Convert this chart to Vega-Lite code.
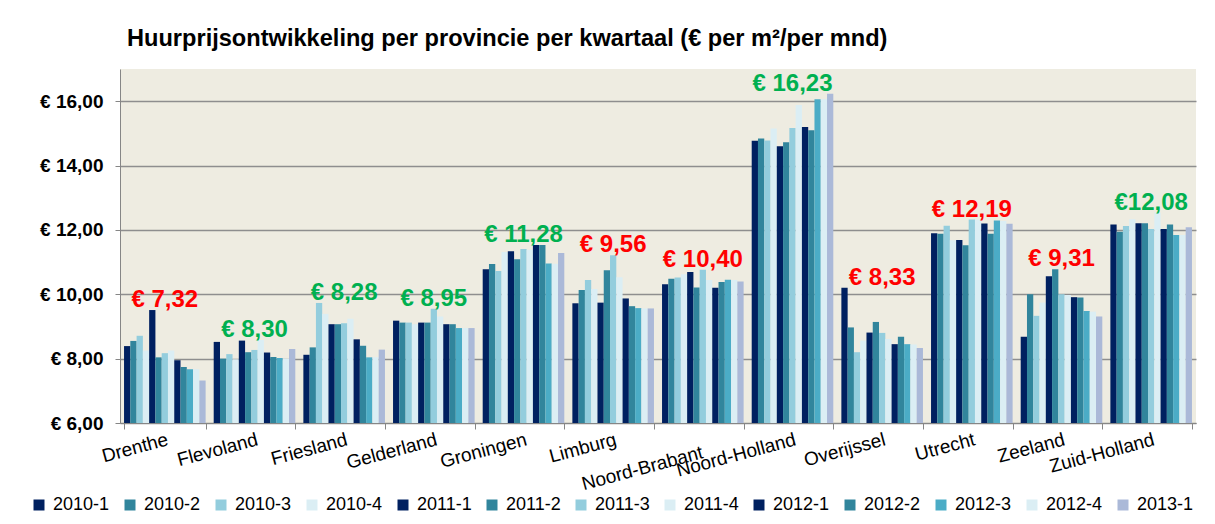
{
  "$schema": "https://vega.github.io/schema/vega-lite/v6.json",
  "autosize": {"type": "none"},
  "width": 1076,
  "height": 354,
  "padding": {"left": 120, "top": 69, "right": 19, "bottom": 101},
  "background": "#FFFFFF",
  "title": {
    "text": "Huurprijsontwikkeling per provincie per kwartaal (€ per m²/per mnd)",
    "anchor": "start",
    "frame": "group",
    "font": "Liberation Sans",
    "fontSize": 23.6,
    "fontWeight": "bold",
    "color": "#000000",
    "baseline": "bottom",
    "offset": -6,
    "dx": 7
  },
  "datasets": {
    "labels": [
      {"province": "Drenthe", "label": "€ 7,32", "trend": "daling"},
      {"province": "Flevoland", "label": "€ 8,30", "trend": "stijging"},
      {"province": "Friesland", "label": "€ 8,28", "trend": "stijging"},
      {"province": "Gelderland", "label": "€ 8,95", "trend": "stijging"},
      {"province": "Groningen", "label": "€ 11,28", "trend": "stijging"},
      {"province": "Limburg", "label": "€ 9,56", "trend": "daling"},
      {"province": "Noord-Brabant", "label": "€ 10,40", "trend": "daling"},
      {"province": "Noord-Holland", "label": "€ 16,23", "trend": "stijging"},
      {"province": "Overijssel", "label": "€ 8,33", "trend": "daling"},
      {"province": "Utrecht", "label": "€ 12,19", "trend": "daling"},
      {"province": "Zeeland", "label": "€ 9,31", "trend": "daling"},
      {"province": "Zuid-Holland", "label": "€12,08", "trend": "stijging"}
    ]
  },
  "data": {
    "values": [
      {"province": "Drenthe", "quarter": "2010-1", "value": 8.39},
      {"province": "Drenthe", "quarter": "2010-2", "value": 8.55},
      {"province": "Drenthe", "quarter": "2010-3", "value": 8.71},
      {"province": "Drenthe", "quarter": "2010-4", "value": 8.25},
      {"province": "Drenthe", "quarter": "2011-1", "value": 9.51},
      {"province": "Drenthe", "quarter": "2011-2", "value": 8.04},
      {"province": "Drenthe", "quarter": "2011-3", "value": 8.17},
      {"province": "Drenthe", "quarter": "2011-4", "value": 8.25},
      {"province": "Drenthe", "quarter": "2012-1", "value": 7.95},
      {"province": "Drenthe", "quarter": "2012-2", "value": 7.74},
      {"province": "Drenthe", "quarter": "2012-3", "value": 7.67},
      {"province": "Drenthe", "quarter": "2012-4", "value": 7.67},
      {"province": "Drenthe", "quarter": "2013-1", "value": 7.32},
      {"province": "Flevoland", "quarter": "2010-1", "value": 8.52},
      {"province": "Flevoland", "quarter": "2010-2", "value": 8.00},
      {"province": "Flevoland", "quarter": "2010-3", "value": 8.14},
      {"province": "Flevoland", "quarter": "2010-4", "value": 7.98},
      {"province": "Flevoland", "quarter": "2011-1", "value": 8.56},
      {"province": "Flevoland", "quarter": "2011-2", "value": 8.20},
      {"province": "Flevoland", "quarter": "2011-3", "value": 8.27},
      {"province": "Flevoland", "quarter": "2011-4", "value": 8.58},
      {"province": "Flevoland", "quarter": "2012-1", "value": 8.19},
      {"province": "Flevoland", "quarter": "2012-2", "value": 8.05},
      {"province": "Flevoland", "quarter": "2012-3", "value": 8.02},
      {"province": "Flevoland", "quarter": "2012-4", "value": 8.00},
      {"province": "Flevoland", "quarter": "2013-1", "value": 8.30},
      {"province": "Friesland", "quarter": "2010-1", "value": 8.12},
      {"province": "Friesland", "quarter": "2010-2", "value": 8.35},
      {"province": "Friesland", "quarter": "2010-3", "value": 9.73},
      {"province": "Friesland", "quarter": "2010-4", "value": 9.39},
      {"province": "Friesland", "quarter": "2011-1", "value": 9.07},
      {"province": "Friesland", "quarter": "2011-2", "value": 9.07},
      {"province": "Friesland", "quarter": "2011-3", "value": 9.10},
      {"province": "Friesland", "quarter": "2011-4", "value": 9.24},
      {"province": "Friesland", "quarter": "2012-1", "value": 8.60},
      {"province": "Friesland", "quarter": "2012-2", "value": 8.40},
      {"province": "Friesland", "quarter": "2012-3", "value": 8.04},
      {"province": "Friesland", "quarter": "2012-4", "value": 8.04},
      {"province": "Friesland", "quarter": "2013-1", "value": 8.28},
      {"province": "Gelderland", "quarter": "2010-1", "value": 9.18},
      {"province": "Gelderland", "quarter": "2010-2", "value": 9.12},
      {"province": "Gelderland", "quarter": "2010-3", "value": 9.12},
      {"province": "Gelderland", "quarter": "2010-4", "value": 9.07},
      {"province": "Gelderland", "quarter": "2011-1", "value": 9.12},
      {"province": "Gelderland", "quarter": "2011-2", "value": 9.12},
      {"province": "Gelderland", "quarter": "2011-3", "value": 9.55},
      {"province": "Gelderland", "quarter": "2011-4", "value": 9.31},
      {"province": "Gelderland", "quarter": "2012-1", "value": 9.07},
      {"province": "Gelderland", "quarter": "2012-2", "value": 9.07},
      {"province": "Gelderland", "quarter": "2012-3", "value": 8.95},
      {"province": "Gelderland", "quarter": "2012-4", "value": 8.95},
      {"province": "Gelderland", "quarter": "2013-1", "value": 8.95},
      {"province": "Groningen", "quarter": "2010-1", "value": 10.78},
      {"province": "Groningen", "quarter": "2010-2", "value": 10.94},
      {"province": "Groningen", "quarter": "2010-3", "value": 10.72},
      {"province": "Groningen", "quarter": "2010-4", "value": 11.31},
      {"province": "Groningen", "quarter": "2011-1", "value": 11.34},
      {"province": "Groningen", "quarter": "2011-2", "value": 11.09},
      {"province": "Groningen", "quarter": "2011-3", "value": 11.41},
      {"province": "Groningen", "quarter": "2011-4", "value": 11.38},
      {"province": "Groningen", "quarter": "2012-1", "value": 11.53},
      {"province": "Groningen", "quarter": "2012-2", "value": 11.53},
      {"province": "Groningen", "quarter": "2012-3", "value": 10.96},
      {"province": "Groningen", "quarter": "2012-4", "value": 10.95},
      {"province": "Groningen", "quarter": "2013-1", "value": 11.28},
      {"province": "Limburg", "quarter": "2010-1", "value": 9.72},
      {"province": "Limburg", "quarter": "2010-2", "value": 10.13},
      {"province": "Limburg", "quarter": "2010-3", "value": 10.44},
      {"province": "Limburg", "quarter": "2010-4", "value": 10.16},
      {"province": "Limburg", "quarter": "2011-1", "value": 9.74},
      {"province": "Limburg", "quarter": "2011-2", "value": 10.75},
      {"province": "Limburg", "quarter": "2011-3", "value": 11.21},
      {"province": "Limburg", "quarter": "2011-4", "value": 10.53},
      {"province": "Limburg", "quarter": "2012-1", "value": 9.87},
      {"province": "Limburg", "quarter": "2012-2", "value": 9.63},
      {"province": "Limburg", "quarter": "2012-3", "value": 9.57},
      {"province": "Limburg", "quarter": "2012-4", "value": 9.56},
      {"province": "Limburg", "quarter": "2013-1", "value": 9.56},
      {"province": "Noord-Brabant", "quarter": "2010-1", "value": 10.31},
      {"province": "Noord-Brabant", "quarter": "2010-2", "value": 10.48},
      {"province": "Noord-Brabant", "quarter": "2010-3", "value": 10.52},
      {"province": "Noord-Brabant", "quarter": "2010-4", "value": 10.62},
      {"province": "Noord-Brabant", "quarter": "2011-1", "value": 10.69},
      {"province": "Noord-Brabant", "quarter": "2011-2", "value": 10.21},
      {"province": "Noord-Brabant", "quarter": "2011-3", "value": 10.76},
      {"province": "Noord-Brabant", "quarter": "2011-4", "value": 10.44},
      {"province": "Noord-Brabant", "quarter": "2012-1", "value": 10.20},
      {"province": "Noord-Brabant", "quarter": "2012-2", "value": 10.38},
      {"province": "Noord-Brabant", "quarter": "2012-3", "value": 10.45},
      {"province": "Noord-Brabant", "quarter": "2012-4", "value": 10.44},
      {"province": "Noord-Brabant", "quarter": "2013-1", "value": 10.40},
      {"province": "Noord-Holland", "quarter": "2010-1", "value": 14.77},
      {"province": "Noord-Holland", "quarter": "2010-2", "value": 14.84},
      {"province": "Noord-Holland", "quarter": "2010-3", "value": 14.78},
      {"province": "Noord-Holland", "quarter": "2010-4", "value": 15.15},
      {"province": "Noord-Holland", "quarter": "2011-1", "value": 14.60},
      {"province": "Noord-Holland", "quarter": "2011-2", "value": 14.72},
      {"province": "Noord-Holland", "quarter": "2011-3", "value": 15.17},
      {"province": "Noord-Holland", "quarter": "2011-4", "value": 15.88},
      {"province": "Noord-Holland", "quarter": "2012-1", "value": 15.20},
      {"province": "Noord-Holland", "quarter": "2012-2", "value": 15.10},
      {"province": "Noord-Holland", "quarter": "2012-3", "value": 16.06},
      {"province": "Noord-Holland", "quarter": "2012-4", "value": 16.06},
      {"province": "Noord-Holland", "quarter": "2013-1", "value": 16.23},
      {"province": "Overijssel", "quarter": "2010-1", "value": 10.20},
      {"province": "Overijssel", "quarter": "2010-2", "value": 8.97},
      {"province": "Overijssel", "quarter": "2010-3", "value": 8.20},
      {"province": "Overijssel", "quarter": "2010-4", "value": 8.56},
      {"province": "Overijssel", "quarter": "2011-1", "value": 8.81},
      {"province": "Overijssel", "quarter": "2011-2", "value": 9.14},
      {"province": "Overijssel", "quarter": "2011-3", "value": 8.80},
      {"province": "Overijssel", "quarter": "2011-4", "value": 8.61},
      {"province": "Overijssel", "quarter": "2012-1", "value": 8.45},
      {"province": "Overijssel", "quarter": "2012-2", "value": 8.68},
      {"province": "Overijssel", "quarter": "2012-3", "value": 8.45},
      {"province": "Overijssel", "quarter": "2012-4", "value": 8.44},
      {"province": "Overijssel", "quarter": "2013-1", "value": 8.33},
      {"province": "Utrecht", "quarter": "2010-1", "value": 11.90},
      {"province": "Utrecht", "quarter": "2010-2", "value": 11.88},
      {"province": "Utrecht", "quarter": "2010-3", "value": 12.13},
      {"province": "Utrecht", "quarter": "2010-4", "value": 11.68},
      {"province": "Utrecht", "quarter": "2011-1", "value": 11.69},
      {"province": "Utrecht", "quarter": "2011-2", "value": 11.52},
      {"province": "Utrecht", "quarter": "2011-3", "value": 12.32},
      {"province": "Utrecht", "quarter": "2011-4", "value": 12.32},
      {"province": "Utrecht", "quarter": "2012-1", "value": 12.20},
      {"province": "Utrecht", "quarter": "2012-2", "value": 11.88},
      {"province": "Utrecht", "quarter": "2012-3", "value": 12.29},
      {"province": "Utrecht", "quarter": "2012-4", "value": 12.28},
      {"province": "Utrecht", "quarter": "2013-1", "value": 12.19},
      {"province": "Zeeland", "quarter": "2010-1", "value": 8.68},
      {"province": "Zeeland", "quarter": "2010-2", "value": 10.00},
      {"province": "Zeeland", "quarter": "2010-3", "value": 9.33},
      {"province": "Zeeland", "quarter": "2010-4", "value": 9.74},
      {"province": "Zeeland", "quarter": "2011-1", "value": 10.56},
      {"province": "Zeeland", "quarter": "2011-2", "value": 10.78},
      {"province": "Zeeland", "quarter": "2011-3", "value": 10.00},
      {"province": "Zeeland", "quarter": "2011-4", "value": 9.98},
      {"province": "Zeeland", "quarter": "2012-1", "value": 9.91},
      {"province": "Zeeland", "quarter": "2012-2", "value": 9.90},
      {"province": "Zeeland", "quarter": "2012-3", "value": 9.48},
      {"province": "Zeeland", "quarter": "2012-4", "value": 9.46},
      {"province": "Zeeland", "quarter": "2013-1", "value": 9.31},
      {"province": "Zuid-Holland", "quarter": "2010-1", "value": 12.17},
      {"province": "Zuid-Holland", "quarter": "2010-2", "value": 11.94},
      {"province": "Zuid-Holland", "quarter": "2010-3", "value": 12.12},
      {"province": "Zuid-Holland", "quarter": "2010-4", "value": 12.33},
      {"province": "Zuid-Holland", "quarter": "2011-1", "value": 12.21},
      {"province": "Zuid-Holland", "quarter": "2011-2", "value": 12.21},
      {"province": "Zuid-Holland", "quarter": "2011-3", "value": 12.03},
      {"province": "Zuid-Holland", "quarter": "2011-4", "value": 12.54},
      {"province": "Zuid-Holland", "quarter": "2012-1", "value": 12.03},
      {"province": "Zuid-Holland", "quarter": "2012-2", "value": 12.17},
      {"province": "Zuid-Holland", "quarter": "2012-3", "value": 11.84},
      {"province": "Zuid-Holland", "quarter": "2012-4", "value": 11.84},
      {"province": "Zuid-Holland", "quarter": "2013-1", "value": 12.08}
    ]
  },
  "encoding": {
    "x": {
      "field": "province",
      "type": "nominal",
      "sort": null,
      "scale": {"paddingInner": 0.09, "paddingOuter": 0.045},
      "axis": {
        "title": null,
        "grid": false,
        "domainColor": "#868686",
        "tickColor": "#868686",
        "tickSize": 6,
        "tickBand": "extent",
        "labelAngle": -15,
        "labelAlign": "right",
        "labelBaseline": "top",
        "labelFont": "Liberation Sans",
        "labelFontSize": 19,
        "labelColor": "#000000",
        "labelPadding": {"condition": {"test": "datum.value === 'Noord-Brabant'", "value": 14}, "value": 1},
        "labelOffset": {"condition": {"test": "datum.value === 'Noord-Brabant'", "value": -3}, "value": 0},
        "labelOverlap": false,
        "labelLimit": 300
      }
    }
  },
  "layer": [
    {
      "mark": {"type": "bar"},
      "encoding": {
        "xOffset": {
          "field": "quarter",
          "type": "nominal",
          "sort": ["2010-1","2010-2","2010-3","2010-4","2011-1","2011-2","2011-3","2011-4","2012-1","2012-2","2012-3","2012-4","2013-1"],
          "scale": {"paddingInner": 0, "paddingOuter": 0}
        },
        "y": {
          "field": "value",
          "type": "quantitative",
          "scale": {"domain": [6, 17], "zero": false, "nice": false, "clamp": true},
          "axis": {
            "title": null,
            "values": [6, 8, 10, 12, 14, 16],
            "labelExpr": "'€ ' + replace(format(datum.value, '.2f'), '.', ',')",
            "labelFont": "Liberation Sans",
            "labelFontSize": 19,
            "labelFontWeight": "bold",
            "labelColor": "#000000",
            "labelPadding": 12,
            "tickSize": 5,
            "tickColor": "#868686",
            "domainColor": "#868686",
            "gridColor": "#8E8E8E",
            "gridWidth": 1.3
          }
        },
        "color": {
          "field": "quarter",
          "type": "nominal",
          "scale": {
            "domain": ["2010-1","2010-2","2010-3","2010-4","2011-1","2011-2","2011-3","2011-4","2012-1","2012-2","2012-3","2012-4","2013-1"],
            "range": ["#002060","#31859C","#93CDDD","#DBEEF4","#002060","#31859C","#93CDDD","#DBEEF4","#002060","#31859C","#4BACC6","#DBEEF4","#ABB9D8"]
          },
          "legend": {
            "title": null,
            "orient": "none",
            "legendX": -90,
            "legendY": 427,
            "direction": "horizontal",
            "columns": 13,
            "symbolType": "square",
            "symbolSize": 121,
            "symbolStrokeWidth": 0,
            "labelFont": "Liberation Sans",
            "labelFontSize": 18,
            "labelColor": "#000000",
            "labelOffset": 5,
            "columnPadding": 11
          }
        }
      }
    },
    {
      "transform": [
        {"joinaggregate": [{"op": "max", "field": "value", "as": "maxv"}], "groupby": ["province"]},
        {"filter": "datum.quarter === '2013-1'"},
        {"lookup": "province", "from": {"data": {"name": "labels"}, "key": "province", "fields": ["label", "trend"]}}
      ],
      "mark": {"type": "text", "font": "Liberation Sans", "fontSize": 24, "fontWeight": "bold", "baseline": "alphabetic", "align": "center", "dy": -3},
      "encoding": {
        "y": {"field": "maxv", "type": "quantitative", "title": null},
        "text": {"field": "label"},
        "color": {"condition": {"test": "datum.trend === 'daling'", "value": "#FF0000"}, "value": "#00B050"}
      }
    }
  ],
  "config": {
    "view": {"fill": "#EEECE1", "stroke": null}
  }
}
